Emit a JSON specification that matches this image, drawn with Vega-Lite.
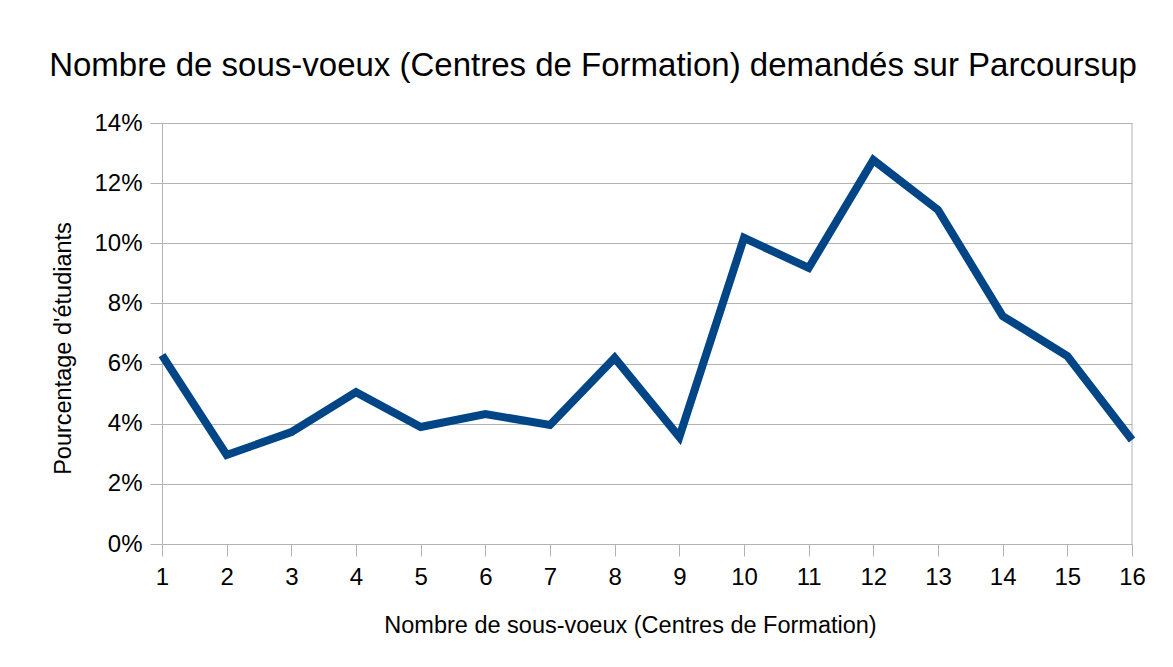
{
  "$schema": "https://vega.github.io/schema/vega-lite/v6.json",
  "width": 970,
  "height": 421,
  "autosize": {"type": "none"},
  "padding": {"left": 162, "top": 123, "right": 41, "bottom": 123},
  "background": "white",
  "title": {
    "text": "Nombre de sous-voeux (Centres de Formation) demandés sur Parcoursup",
    "font": "Liberation Sans",
    "fontSize": 33,
    "fontWeight": "normal",
    "color": "#000000",
    "anchor": "middle",
    "dx": -54,
    "offset": 28
  },
  "config": {
    "view": {"stroke": null},
    "font": "Liberation Sans"
  },
  "data": {
    "values": [
      {"n": 1, "pct": 0.0628},
      {"n": 2, "pct": 0.0296},
      {"n": 3, "pct": 0.0372},
      {"n": 4, "pct": 0.0505},
      {"n": 5, "pct": 0.0389},
      {"n": 6, "pct": 0.0432},
      {"n": 7, "pct": 0.0396},
      {"n": 8, "pct": 0.0619},
      {"n": 9, "pct": 0.0356},
      {"n": 10, "pct": 0.1018},
      {"n": 11, "pct": 0.0918},
      {"n": 12, "pct": 0.1277},
      {"n": 13, "pct": 0.1111},
      {"n": 14, "pct": 0.0758},
      {"n": 15, "pct": 0.0625},
      {"n": 16, "pct": 0.0346}
    ]
  },
  "layer": [
    {
      "mark": {"type": "rule", "color": "#b3b3b3", "strokeWidth": 1},
      "data": {"values": [{"x": 16}]},
      "encoding": {
        "x": {"field": "x", "type": "quantitative", "scale": {"domain": [1, 16], "nice": false, "zero": false}}
      }
    },
    {
      "mark": {"type": "line", "color": "#004586", "strokeWidth": 8, "strokeJoin": "miter", "strokeCap": "butt"},
      "encoding": {
        "x": {
          "field": "n",
          "type": "quantitative",
          "scale": {"domain": [1, 16], "nice": false, "zero": false},
          "axis": {
            "title": "Nombre de sous-voeux (Centres de Formation)",
            "titleFont": "Liberation Sans",
            "titleFontSize": 23.5,
            "titleFontWeight": "normal",
            "titleColor": "#000000",
            "titlePadding": 24,
            "titleX": 468,
            "titleAlign": "center",
            "values": [1,2,3,4,5,6,7,8,9,10,11,12,13,14,15,16],
            "format": "d",
            "labelFont": "Liberation Sans",
            "labelFontSize": 24,
            "labelColor": "#000000",
            "labelPadding": 9,
            "labelFlush": false,
            "tickSize": 12,
            "tickColor": "#b3b3b3",
            "domain": true,
            "domainColor": "#b3b3b3",
            "grid": false
          }
        },
        "y": {
          "field": "pct",
          "type": "quantitative",
          "scale": {"domain": [0, 0.14], "nice": false},
          "axis": {
            "title": "Pourcentage d'étudiants",
            "titleFont": "Liberation Sans",
            "titleFontSize": 23.5,
            "titleFontWeight": "normal",
            "titleColor": "#000000",
            "titlePadding": 18,
            "titleY": 225,
            "titleAlign": "center",
            "values": [0, 0.02, 0.04, 0.06, 0.08, 0.1, 0.12, 0.14],
            "format": ".0%",
            "labelFont": "Liberation Sans",
            "labelFontSize": 24,
            "labelColor": "#000000",
            "labelPadding": 8,
            "tickSize": 12,
            "tickColor": "#b3b3b3",
            "domain": true,
            "domainColor": "#b3b3b3",
            "grid": true,
            "gridColor": "#b3b3b3"
          }
        }
      }
    }
  ]
}
